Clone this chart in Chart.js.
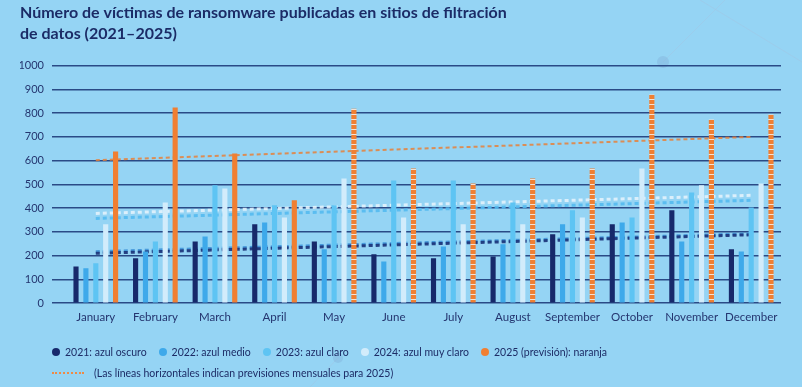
<!DOCTYPE html>
<html lang="es">
<head>
<meta charset="utf-8">
<script src="https://cdn.jsdelivr.net/npm/chart.js@4/dist/chart.umd.min.js"></script>
<style>
  html, body { margin:0; padding:0; background:#95d4f4; }
  #wrap { position:relative; width:802px; height:387px; overflow:hidden; }
  #chart { position:absolute; left:0; top:0; }
  .legend { position:absolute; left:52px; display:flex; align-items:center;
            font-family:Lato, "Noto Sans", sans-serif; font-size:10.5px; color:#1d2c66; white-space:nowrap; }
  .legend .item { display:flex; align-items:center; margin-right:12px; }
  .legend .dot { width:8px; height:8px; border-radius:50%; margin-right:5px; }
  .legend .dash { width:32px; height:0; border-top:2px dotted #ef8a45; margin-right:10px; }
</style>
</head>
<body>
<div id="wrap">
  <canvas id="chart" width="802" height="387"></canvas>
  <div class="legend" id="legendRow1" style="top:346px"></div>
  <div class="legend" style="top:367px">
    <div class="item"><span class="dash"></span>(Las líneas horizontales indican previsiones mensuales para 2025)</div>
  </div>
</div>
<script>
const months = ['January','February','March','April','May','June','July','August','September','October','November','December'];

const v2021 = [155,189,260,332,260,206,189,197,290,332,391,227];
const v2022 = [147,218,281,340,227,176,239,248,332,340,260,218];
const v2023 = [168,260,496,412,412,517,517,424,391,361,466,403];
const v2024 = [332,424,483,361,525,361,332,332,361,567,496,504];
const v2025 = [639,824,630,433,819,567,504,525,567,878,773,794];

// trend lines: value at January and at December
const trend2021 = [210, 288];
const trend2022 = [217, 292];
const trend2023 = [357, 433];
const trend2024 = [378, 454];
const trend2025 = [602, 700];

const yTicks = [0,100,200,300,400,500,600,700,800,900,1000];

const legendItems = [
  ['2021: azul oscuro', '#17296b'],
  ['2022: azul medio', '#3ea9ea'],
  ['2023: azul claro', '#5ec4f3'],
  ['2024: azul muy claro', '#d2ecfb'],
  ['2025 (previsión): naranja', '#f07f32']
];

const C = {
  bg:'#95d4f4', navy:'#1b2b66', grid:'#2a4a86',
  c2021:'#17296b', c2022:'#3ea9ea', c2023:'#5ec4f3', c2024:'#d2ecfb', c2025:'#f07f32'
};

const row1 = document.getElementById('legendRow1');
legendItems.forEach(([txt, col]) => {
  const d = document.createElement('div');
  d.className = 'item';
  d.innerHTML = '<span class="dot" style="background:' + col + '"></span>' + txt;
  row1.appendChild(d);
});

// striped pattern for the forecast months
const pc = document.createElement('canvas');
pc.width = 6; pc.height = 5;
const px = pc.getContext('2d');
px.fillStyle = '#f4e2d6'; px.fillRect(0,0,6,5);
px.fillStyle = C.c2025; px.fillRect(0,0,6,4);
const ctx = document.getElementById('chart').getContext('2d');
const stripes = ctx.createPattern(pc, 'repeat');
const solidMonths = 4;

function trend(ends) {
  const d = months.map(() => null);
  d[0] = ends[0]; d[d.length-1] = ends[1];
  return d;
}
function trendSet(label, ends, color, width) {
  return { type:'line', label, data:trend(ends), spanGaps:true, borderColor:color, borderWidth:width,
           borderDash:[4,3], pointRadius:0, fill:false, order:10 };
}
function barSet(label, data, color) {
  return { type:'bar', label, data, backgroundColor:color, order:1,
           categoryPercentage:0.83, barPercentage:0.52 };
}

const decor = {
  id:'decor',
  beforeDraw(chart) {
    const c = chart.ctx;
    c.save();
    c.fillStyle = C.bg;
    c.fillRect(0,0,chart.width,chart.height);
    c.strokeStyle = 'rgba(160,200,230,0.6)';
    c.lineWidth = 1;
    c.beginPath(); c.moveTo(663,62); c.lineTo(725,0); c.stroke();
    c.beginPath(); c.moveTo(700,0); c.lineTo(802,62); c.stroke();
    c.beginPath(); c.moveTo(338,358); c.lineTo(310,387); c.stroke();
    c.fillStyle = 'rgba(130,180,220,0.45)';
    c.beginPath(); c.arc(663,62,6,0,Math.PI*2); c.fill();
    c.beginPath(); c.arc(338,358,5,0,Math.PI*2); c.fill();
    c.restore();
  }
};

new Chart(ctx, {
  data: {
    labels: months,
    datasets: [
      barSet('2021', v2021, C.c2021),
      barSet('2022', v2022, C.c2022),
      barSet('2023', v2023, C.c2023),
      barSet('2024', v2024, C.c2024),
      Object.assign(barSet('2025', v2025, C.c2025), {
        backgroundColor: (c) => c.dataIndex < solidMonths ? C.c2025 : stripes
      }),
      trendSet('Tendencia 2021', trend2021, 'rgba(27,50,120,0.9)', 3),
      trendSet('Tendencia 2022', trend2022, 'rgba(58,143,214,0.85)', 3),
      trendSet('Tendencia 2023', trend2023, 'rgba(84,186,240,0.9)', 3),
      trendSet('Tendencia 2024', trend2024, 'rgba(226,242,252,0.9)', 3),
      trendSet('Tendencia 2025', trend2025, 'rgba(232,128,56,0.85)', 2)
    ]
  },
  options: {
    responsive:false, animation:false,
    layout:{ padding:{ left:20, right:21, top:0, bottom:56 } },
    plugins:{
      legend:{ display:false },
      tooltip:{ enabled:false },
      title:{
        display:true, align:'start', color:C.navy,
        text:['Número de víctimas de ransomware publicadas en sitios de filtración','de datos (2021–2025)'],
        font:{ family:'Lato', weight:'bold', size:16, lineHeight:1.27 },
        padding:{ top:3, bottom:22 }
      }
    },
    scales:{
      x:{
        grid:{ display:false, drawTicks:false }, border:{ display:false },
        ticks:{ color:'#24356f', font:{ family:'Lato', size:11.5 }, padding:7, maxRotation:0, autoSkip:false }
      },
      y:{
        min:0, max:1000,
        afterBuildTicks:(s) => { s.ticks = yTicks.map(v => ({ value:v })); },
        afterFit:(s) => { s.width = 46; },
        grid:{ color:C.grid, lineWidth:1.5, tickLength:14 },
        border:{ display:false },
        ticks:{ color:'#24356f', font:{ family:'Lato', size:11 }, padding:8, callback:(v) => String(v) }
      }
    }
  },
  plugins:[decor]
});
</script>
</body>
</html>
